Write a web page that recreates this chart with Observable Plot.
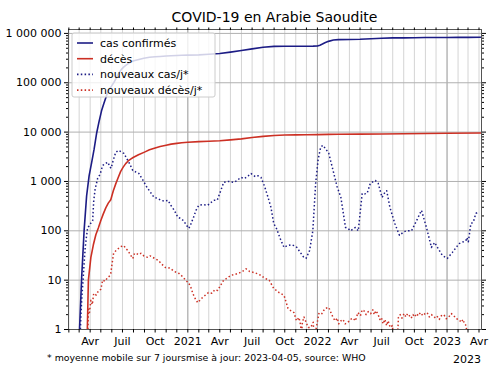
<!DOCTYPE html>
<html><head><meta charset="utf-8">
<script src="https://cdn.jsdelivr.net/npm/d3@7"></script>
<script src="https://cdn.jsdelivr.net/npm/@observablehq/plot@0.6"></script>
<style>body{margin:0;background:#fff;font-family:"DejaVu Sans",sans-serif}</style>
</head><body><div id="chart"></div>
<script>
const titleText = "COVID-19 en Arabie Saoudite";
const seriesNames = ["cas confirmés", "décès", "nouveaux cas/j*", "nouveaux décès/j*"];
const footLeft = "* moyenne mobile sur 7 jours";
const footMid = "mise à jour: 2023-04-05, source: WHO";
const offsetYear = "2023";
const monthLabels = {3: "Avr", 6: "Juil", 9: "Oct"};
const yTicks = [1, 10, 100, 1000, 10000, 100000, 1000000];

const cumCases = [
["2020-03-02",1],["2020-03-08",11],["2020-03-15",103],["2020-03-22",511],["2020-03-29",1299],
["2020-04-05",2385],["2020-04-12",4462],["2020-04-19",9362],["2020-04-26",16299],["2020-05-03",27011],
["2020-05-10",39048],["2020-05-17",54752],["2020-05-24",72560],["2020-05-31",85261],["2020-06-07",101914],
["2020-06-14",127541],["2020-06-21",157612],["2020-06-28",186436],["2020-07-05",209509],["2020-07-12",229480],
["2020-07-19",250920],["2020-07-26",266941],["2020-08-02",279305],["2020-08-16",297315],["2020-08-30",314821],
["2020-09-15",327551],["2020-10-01",335578],["2020-10-15",340590],["2020-11-01",347282],["2020-11-15",352460],
["2020-12-01",357360],["2020-12-15",360335],["2021-01-01",362741],["2021-02-01",368000],["2021-03-01",377700],
["2021-04-01",392000],["2021-05-01",418000],["2021-06-01",450000],["2021-07-01",485000],["2021-08-01",525000],
["2021-09-01",545000],["2021-10-01",547500],["2021-11-01",549000],["2021-12-01",550000],["2021-12-20",551500],
["2022-01-01",556000],["2022-01-08",575000],["2022-01-15",608000],["2022-01-22",645000],["2022-02-01",690000],
["2022-02-15",735000],["2022-03-01",747000],["2022-04-01",752000],["2022-05-01",760000],["2022-06-01",780000],
["2022-07-01",800000],["2022-08-01",810000],["2022-09-01",813000],["2022-10-01",818000],["2022-11-01",824000],
["2022-12-01",827000],["2023-01-01",828500],["2023-02-01",830000],["2023-03-01",832000],["2023-04-05",838000]
];

const cumDeaths = [
["2020-03-24",1],["2020-03-27",10],["2020-04-03",29],["2020-04-10",52],["2020-04-17",83],["2020-04-24",114],
["2020-05-01",162],["2020-05-08",220],["2020-05-15",292],["2020-05-22",364],["2020-05-29",425],["2020-06-05",642],
["2020-06-12",893],["2020-06-19",1200],["2020-06-26",1600],["2020-07-03",1950],["2020-07-10",2300],["2020-07-17",2601],
["2020-07-24",2842],["2020-07-31",3055],["2020-08-15",3470],["2020-09-01",3930],["2020-09-15",4370],["2020-10-01",4768],
["2020-10-15",5100],["2020-11-01",5420],["2020-11-15",5700],["2020-12-01",5900],["2020-12-15",6070],["2021-01-01",6250],
["2021-02-01",6400],["2021-03-01",6530],["2021-04-01",6700],["2021-05-01",6950],["2021-06-01",7300],["2021-07-01",7800],
["2021-08-01",8200],["2021-09-01",8550],["2021-10-01",8730],["2021-11-01",8780],["2021-12-01",8830],["2022-01-01",8880],
["2022-02-01",8990],["2022-03-01",9040],["2022-05-01",9090],["2022-07-01",9140],["2022-09-01",9250],["2022-11-01",9390],
["2023-01-01",9460],["2023-04-05",9580]
];

const dailyCases = [
["2020-03-03",0.5],["2020-03-06",2],["2020-03-09",5],["2020-03-12",10],["2020-03-15",22],["2020-03-18",45],["2020-03-21",70],
["2020-03-25",117],["2020-03-29",125],["2020-04-02",140],["2020-04-08",160],["2020-04-11",400],["2020-04-15",700],
["2020-04-22",1150],["2020-04-29",1400],["2020-05-06",2100],["2020-05-13",2300],["2020-05-21",2450],["2020-05-26",2000],
["2020-05-30",1850],["2020-06-05",2700],["2020-06-12",3900],["2020-06-20",4270],["2020-06-27",4000],["2020-07-05",3700],
["2020-07-12",3000],["2020-07-19",2450],["2020-07-30",1670],["2020-08-08",1550],["2020-08-16",1450],["2020-08-28",1050],
["2020-09-06",800],["2020-09-14",660],["2020-09-28",475],["2020-10-08",455],["2020-10-17",415],["2020-10-27",400],
["2020-11-06",415],["2020-11-14",330],["2020-11-24",260],["2020-12-04",187],["2020-12-12",178],["2020-12-20",160],
["2020-12-28",130],["2021-01-04",112],["2021-01-10",140],["2021-01-17",187],["2021-01-24",260],["2021-02-01",330],
["2021-02-12",340],["2021-02-26",330],["2021-03-15",415],["2021-03-25",420],["2021-04-04",660],["2021-04-12",960],
["2021-04-25",1000],["2021-05-11",960],["2021-05-20",1050],["2021-05-30",1210],["2021-06-10",1150],["2021-06-20",1300],
["2021-06-28",1450],["2021-07-10",1250],["2021-07-18",1300],["2021-07-26",1210],["2021-08-05",800],["2021-08-15",475],
["2021-08-23",300],["2021-08-31",141],["2021-09-08",110],["2021-09-18",70],["2021-09-29",46],["2021-10-08",50],
["2021-10-20",52],["2021-10-27",50],["2021-11-04",46],["2021-11-12",38],["2021-11-22",30],["2021-11-30",27.6],
["2021-12-10",40],["2021-12-19",100],["2021-12-27",920],["2022-01-03",2800],["2022-01-10",4900],["2022-01-16",5400],
["2022-01-24",4600],["2022-02-02",3700],["2022-02-14",1670],["2022-02-25",800],["2022-03-08",475],["2022-03-21",117],
["2022-03-28",112],["2022-04-04",100],["2022-04-18",117],["2022-04-26",100],["2022-05-07",575],["2022-05-14",560],
["2022-05-21",575],["2022-05-30",920],["2022-06-13",1050],["2022-06-21",920],["2022-07-02",475],["2022-07-10",600],
["2022-07-15",650],["2022-07-24",300],["2022-08-07",140],["2022-08-20",81],["2022-09-01",95],["2022-09-09",100],
["2022-09-23",100],["2022-10-07",160],["2022-10-21",260],["2022-11-04",117],["2022-11-18",46],["2022-11-27",58],
["2022-12-05",46],["2022-12-19",31.5],["2023-01-02",27.6],["2023-01-16",36.5],["2023-02-04",55],["2023-02-16",60],
["2023-02-23",63],["2023-02-26",73],["2023-03-02",60],["2023-03-09",140],["2023-03-16",150],["2023-03-23",225],
["2023-03-31",240]
];

const dailyDeaths = [
["2020-03-25",0.5],["2020-03-27",2.8],["2020-03-30",2.2],["2020-04-03",3.9],["2020-04-07",3.2],["2020-04-11",5.4],
["2020-04-18",5.0],["2020-04-25",6.2],["2020-05-01",6.5],["2020-05-06",10],["2020-05-13",9.5],["2020-05-20",11.3],
["2020-05-25",12],["2020-05-29",13.7],["2020-06-03",25],["2020-06-06",35],["2020-06-13",40],["2020-06-20",44],
["2020-06-27",48],["2020-07-05",50],["2020-07-10",44],["2020-07-16",40],["2020-07-23",33],["2020-07-30",27.5],
["2020-08-04",35],["2020-08-09",35],["2020-08-15",33],["2020-08-22",35],["2020-08-30",31],["2020-09-10",29],
["2020-09-17",31],["2020-09-24",29],["2020-10-02",27],["2020-10-10",25],["2020-10-20",21],["2020-10-30",18],
["2020-11-07",18],["2020-11-14",17],["2020-11-24",15],["2020-12-07",13.7],["2020-12-16",12],["2020-12-26",10],
["2021-01-04",8.6],["2021-01-10",7],["2021-01-15",5.4],["2021-01-22",4.2],["2021-01-29",3.5],["2021-02-05",4.0],
["2021-02-12",4.5],["2021-02-20",5],["2021-02-28",5.6],["2021-03-10",5.4],["2021-03-18",6.4],["2021-03-26",6.2],
["2021-04-04",8],["2021-04-12",10],["2021-04-22",11],["2021-05-02",12.5],["2021-05-12",13],["2021-05-23",13.7],
["2021-06-04",15],["2021-06-14",17],["2021-06-24",15],["2021-07-06",14.3],["2021-07-16",13.5],["2021-07-26",12.5],
["2021-08-05",11],["2021-08-18",10],["2021-08-31",6.8],["2021-09-15",5.6],["2021-09-29",4.9],["2021-10-10",2.7],
["2021-10-18",2.4],["2021-10-27",2.2],["2021-11-03",1.5],["2021-11-10",1.75],["2021-11-15",1.2],["2021-11-17",0.5],
["2021-11-19",1.3],["2021-11-24",1.8],["2021-11-30",1.4],["2021-12-06",1.1],["2021-12-13",1.1],["2021-12-20",1.4],
["2021-12-24",0.5],["2021-12-28",1.0],["2022-01-05",2.1],["2022-01-12",2.0],["2022-01-18",2.4],["2022-01-24",2.7],
["2022-02-02",2.8],["2022-02-08",2.2],["2022-02-14",1.75],["2022-02-20",1.5],["2022-02-26",1.7],["2022-03-02",1.3],
["2022-03-08",1.5],["2022-03-14",1.6],["2022-03-20",1.3],["2022-03-28",1.4],["2022-04-04",1.6],["2022-04-11",1.7],
["2022-04-18",1.5],["2022-04-25",2.2],["2022-05-02",1.9],["2022-05-07",2.5],["2022-05-12",2.4],["2022-05-18",2.0],
["2022-05-24",2.3],["2022-05-31",2.1],["2022-06-06",2.5],["2022-06-10",2.0],["2022-06-15",2.4],["2022-06-21",2.0],
["2022-06-26",1.6],["2022-06-30",1.75],["2022-07-05",1.3],["2022-07-10",1.6],["2022-07-15",1.2],["2022-07-19",1.5],
["2022-07-25",1.1],["2022-07-31",1.2],["2022-08-05",0.5],["2022-08-14",0.5],["2022-08-17",1.75],["2022-08-22",2.0],
["2022-08-27",1.7],["2022-09-02",2.1],["2022-09-07",1.8],["2022-09-12",2.1],["2022-09-17",1.9],["2022-09-22",1.7],
["2022-09-27",2.0],["2022-10-02",1.8],["2022-10-07",2.1],["2022-10-12",1.9],["2022-10-18",2.2],["2022-10-25",1.9],
["2022-10-31",2.1],["2022-11-06",2.2],["2022-11-12",1.8],["2022-11-18",2.0],["2022-11-27",1.75],["2022-12-03",1.9],
["2022-12-10",1.6],["2022-12-16",1.9],["2022-12-23",2.0],["2022-12-30",1.65],["2023-01-06",1.8],["2023-01-13",2.1],
["2023-01-20",1.9],["2023-01-27",1.65],["2023-02-03",1.6],["2023-02-10",1.4],["2023-02-15",1.6],["2023-02-19",1.3],
["2023-02-24",1.2],["2023-02-27",0.5]
];

const BLUE = "#1c1c85", RED = "#cc3024";
const parse = d => new Date(d + "T00:00:00Z");
const rows = arr => arr.map(([d, v]) => ({date: parse(d), value: v}));
const xDomain = [parse("2020-01-31"), parse("2023-04-08")];
const months = d3.utcMonth.range(parse("2020-02-01"), parse("2023-04-09"));
const quarters = months.filter(d => d.getUTCMonth() % 3 === 0);
const years = months.filter(d => d.getUTCMonth() === 0);
const minorY = [];
for (let e = 0; e < 6; e++) for (let k = 2; k < 10; k++) minorY.push(k * 10 ** e);
const fmtY = v => d3.format(",")(v).replace(/,/g, "\u00a0");
const fmtX = d => d.getUTCMonth() === 0 ? String(d.getUTCFullYear()) : monthLabels[d.getUTCMonth()];
const dotted = {strokeDasharray: "1.5,2.3", strokeWidth: 1.5, strokeLinecap: "butt"};

const chart = Plot.plot({
  width: 500, height: 375,
  marginLeft: 68, marginRight: 19, marginTop: 29, marginBottom: 46,
  style: {fontFamily: "DejaVu Sans, sans-serif", fontSize: "11px", color: "#000", background: "#fff"},
  x: {type: "utc", domain: xDomain, label: null},
  y: {type: "log", domain: [1, 1.2e6], label: null},
  marks: [
    Plot.ruleX(months, {stroke: "#d4d4d4", strokeWidth: 1}),
    Plot.ruleX(years, {stroke: "#a8a8a8", strokeWidth: 1}),
    Plot.ruleY(yTicks, {stroke: "#b0b0b0", strokeWidth: 1}),
    Plot.line(rows(dailyDeaths), {x: "date", y: "value", stroke: RED, clip: true, ...dotted}),
    Plot.line(rows(dailyCases), {x: "date", y: "value", stroke: BLUE, clip: true, ...dotted}),
    Plot.line(rows(cumDeaths), {x: "date", y: "value", stroke: RED, strokeWidth: 1.6, clip: true}),
    Plot.line(rows(cumCases), {x: "date", y: "value", stroke: BLUE, strokeWidth: 1.6, clip: true}),
    Plot.frame({stroke: "#555"}),
    Plot.axisX({ticks: months, tickSize: 3.5, text: null, anchor: "bottom", label: null}),
    Plot.axisX({ticks: months, tickSize: 2.5, text: null, anchor: "top", label: null}),
    Plot.axisX({ticks: quarters, tickSize: 0, tickPadding: 8, tickFormat: fmtX, anchor: "bottom", label: null, fontSize: 11}),
    Plot.axisY({ticks: yTicks, tickSize: 4, tickPadding: 3, tickFormat: fmtY, anchor: "left", label: null, fontSize: 11}),
    Plot.axisY({ticks: minorY, tickSize: 2, text: null, anchor: "left", label: null}),
    Plot.axisY({ticks: yTicks, tickSize: 4, text: null, anchor: "right", label: null}),
    Plot.axisY({ticks: minorY, tickSize: 2, text: null, anchor: "right", label: null})
  ]
});
document.getElementById("chart").appendChild(chart);

const svg = d3.select(chart);
svg.append("text").attr("x", 274.5).attr("y", 22).attr("text-anchor", "middle")
  .attr("font-size", 14).attr("fill", "#000").text(titleText);
const lg = svg.append("g");
lg.append("rect").attr("x", 72).attr("y", 33).attr("width", 143).attr("height", 64).attr("rx", 2)
  .attr("fill", "#fff").attr("fill-opacity", 0.8).attr("stroke", "#ccc");
const legendStyles = [
  {stroke: BLUE, dash: null}, {stroke: RED, dash: null},
  {stroke: BLUE, dash: "1.5,2.3"}, {stroke: RED, dash: "1.5,2.3"}
];
seriesNames.forEach((name, i) => {
  const y = 43 + i * 15.7;
  const l = lg.append("line").attr("x1", 77).attr("x2", 93).attr("y1", y).attr("y2", y)
    .attr("stroke", legendStyles[i].stroke).attr("stroke-width", 1.6);
  if (legendStyles[i].dash) l.attr("stroke-dasharray", legendStyles[i].dash);
  lg.append("text").attr("x", 100).attr("y", y).attr("dy", "0.35em").attr("font-size", 11)
    .attr("text-anchor", "start").attr("fill", "#000").text(name);
});
svg.append("text").attr("x", 47).attr("y", 358).attr("dy", "0.35em").attr("font-size", 9.4)
  .attr("text-anchor", "start").text(footLeft);
svg.append("text").attr("x", 186).attr("y", 358).attr("dy", "0.35em").attr("font-size", 9.4)
  .attr("text-anchor", "start").text(footMid);
svg.append("text").attr("x", 481).attr("y", 359).attr("dy", "0.35em").attr("text-anchor", "end")
  .attr("font-size", 11).text(offsetYear);
</script></body></html>
